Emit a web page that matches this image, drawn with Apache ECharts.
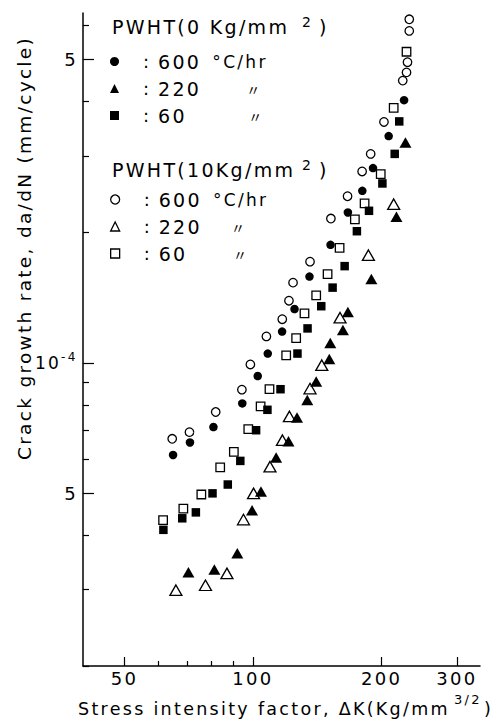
<!DOCTYPE html>
<html><head><meta charset="utf-8">
<script src="https://cdn.jsdelivr.net/npm/echarts@6/dist/echarts.min.js"></script>
<style>html,body{margin:0;padding:0;background:#fff}#c{width:501px;height:725px}#c svg text{letter-spacing:2.3px}</style>
</head><body><div id="c"></div>
<script>
// ---- axis ticks ----
const xTickLabels = [50, 100, 200, 300];
const xMinorTicks = [60, 70, 80, 90];
const yTickLabels = [5e-5, 1e-4, 5e-4];
const yMinorTicks = [2e-5, 3e-5, 4e-5, 6e-5, 7e-5, 8e-5, 9e-5, 2e-4, 3e-4, 4e-4, 6e-4];

// ---- series: stress intensity factor (x) and crack growth rate (y) ----
// PWHT (0 Kg/mm2)
const k0_600 = [225.8, 207.8, 191.0, 180.3, 166.8, 151.9, 135.6, 125.1, 117.0, 108.3, 102.6, 94.4, 80.8, 71.2, 65.0];
const r0_600 = [4.03e-4, 3.33e-4, 2.81e-4, 2.49e-4, 2.22e-4, 1.87e-4, 1.58e-4, 1.33e-4, 1.18e-4, 1.05e-4, 9.32e-5, 8.06e-5, 7.11e-5, 6.55e-5, 6.13e-5];
const k0_220 = [227.5, 216.7, 189.3, 166.8, 162.4, 151.7, 150.9, 140.6, 134.0, 126.8, 121.1, 113.3, 104.4, 99.5, 91.9, 81.2, 70.6];
const r0_220 = [3.22e-4, 2.17e-4, 1.56e-4, 1.31e-4, 1.19e-4, 1.11e-4, 1.02e-4, 9.05e-5, 8.21e-5, 7.48e-5, 6.59e-5, 6.05e-5, 5.05e-5, 4.57e-5, 3.64e-5, 3.34e-5, 3.29e-5];
const k0_60 = [220.0, 214.7, 200.9, 186.9, 175.1, 163.9, 153.6, 144.5, 134.2, 127.1, 116.0, 108.1, 101.7, 93.4, 87.3, 80.4, 73.5, 68.3, 61.7];
const r0_60 = [3.60e-4, 3.03e-4, 2.59e-4, 2.24e-4, 2.01e-4, 1.67e-4, 1.49e-4, 1.35e-4, 1.20e-4, 1.05e-4, 8.69e-5, 7.79e-5, 6.99e-5, 5.94e-5, 5.24e-5, 5.00e-5, 4.52e-5, 4.38e-5, 4.12e-5];
// PWHT (10 Kg/mm2)
const k10_600 = [232.2, 232.2, 230.0, 228.8, 224.2, 202.6, 188.6, 180.1, 166.5, 152.2, 136.0, 124.1, 121.4, 117.1, 107.5, 98.6, 94.2, 81.8, 71.0, 64.7];
const r10_600 = [6.19e-4, 5.82e-4, 4.93e-4, 4.67e-4, 4.47e-4, 3.59e-4, 3.03e-4, 2.76e-4, 2.42e-4, 2.15e-4, 1.71e-4, 1.53e-4, 1.39e-4, 1.26e-4, 1.15e-4, 9.91e-5, 8.67e-5, 7.70e-5, 6.92e-5, 6.68e-5];
const k10_220 = [213.5, 186.3, 159.9, 144.9, 136.0, 121.7, 117.2, 109.6, 100.3, 95.0, 86.9, 77.4, 66.0];
const r10_220 = [2.32e-4, 1.77e-4, 1.27e-4, 9.87e-5, 8.72e-5, 7.52e-5, 6.63e-5, 5.76e-5, 5.00e-5, 4.35e-5, 3.27e-5, 3.07e-5, 2.99e-5];
const k10_60 = [228.8, 213.5, 199.1, 182.5, 173.2, 159.5, 149.5, 140.6, 132.0, 126.2, 119.6, 109.3, 104.2, 97.5, 90.2, 83.8, 75.7, 68.7, 61.6];
const r10_60 = [5.21e-4, 3.87e-4, 2.72e-4, 2.33e-4, 2.14e-4, 1.84e-4, 1.60e-4, 1.43e-4, 1.30e-4, 1.14e-4, 1.04e-4, 8.69e-5, 7.93e-5, 7.03e-5, 6.23e-5, 5.74e-5, 4.97e-5, 4.61e-5, 4.34e-5];

// ---- legend texts ----
const groupTitles = ['PWHT(0 Kg/mm', 'PWHT(10Kg/mm'];
const rateNames = ['600', '220', '60'];
const rateUnits = ['°C/hr', '〃', '〃'];
const seriesNames = ['0Kg 600', '0Kg 220', '0Kg 60', '10Kg 600', '10Kg 220', '10Kg 60'];
const yTitle = 'Crack growth rate, da/dN (mm/cycle)';
const xTitle = 'Stress intensity factor, ΔK(Kg/mm';

const FONT = 'DejaVu Sans';
const zip = (a, b) => a.map((v, i) => [v, b[i]]);
const filled = { color: '#000', opacity: 1 };
const open = { color: '#fff', borderColor: '#000', borderWidth: 1.3, opacity: 1 };
const defs = [
  [k0_600, r0_600, 'circle', 8.5, filled],
  [k0_220, r0_220, 'triangle', [12, 10.5], filled],
  [k0_60, r0_60, 'rect', 8.5, filled],
  [k10_600, r10_600, 'circle', 8.5, open],
  [k10_220, r10_220, 'triangle', [12, 10.5], open],
  [k10_60, r10_60, 'rect', 8.5, open]
];
const series = defs.map((d, i) => ({
  name: seriesNames[i], type: 'scatter', data: zip(d[0], d[1]),
  symbol: d[2], symbolSize: d[3], itemStyle: d[4], xAxisIndex: 0, yAxisIndex: 0, z: i < 3 ? 3 : 2
}));

// uPads: gap after the number for [unit, ditto(220), ditto(60)]
function legendFor(idx, top, uPads) {
  return {
    show: true, orient: 'vertical', left: 110, top: top, itemGap: 8, itemWidth: 9, itemHeight: 9,
    selectedMode: false, padding: 0,
    data: [0, 1, 2].map(j => ({ name: seriesNames[idx + j], icon: defs[idx + j][2], itemStyle: defs[idx + j][4] })),
    formatter: name => {
      const j = seriesNames.indexOf(name) - idx;
      const u = rateUnits[j] === '〃' ? '{d' + j + '|〃}' : '{u|' + rateUnits[j] + '}';
      return '{c|:}{v|' + rateNames[j] + '}' + u;
    },
    textStyle: {
      color: '#000', fontFamily: FONT, fontSize: 18,
      rich: {
        c: { align: 'left', padding: [0, 0, 0, 19], fontSize: 18, lineHeight: 20, fontFamily: FONT },
        v: { align: 'left', padding: [0, 0, 0, 9], fontSize: 19, lineHeight: 20, fontFamily: FONT },
        u: { align: 'left', padding: [0, 0, 0, uPads[0]], fontSize: 17, lineHeight: 20, fontFamily: FONT },
        d1: { align: 'left', fontSize: 14, lineHeight: 20, padding: [0, 0, 0, uPads[1]], fontFamily: 'Noto Sans CJK JP' },
        d2: { align: 'left', fontSize: 14, lineHeight: 20, padding: [0, 0, 0, uPads[2]], fontFamily: 'Noto Sans CJK JP' }
      }
    }
  };
}

function supText(x, y, main, sup, mainW, supW, size, supSize, lh, supLh) {
  return { type: 'text', x: x, y: y,
    style: { text: '{t|' + main + '}{s|' + sup + '}{e|)}', fill: '#000', align: 'left', verticalAlign: 'middle',
      rich: {
        t: { fontFamily: FONT, fontSize: size, lineHeight: lh, width: mainW, align: 'left' },
        s: { fontFamily: FONT, fontSize: supSize, lineHeight: supLh, verticalAlign: 'top', width: supW, align: 'left' },
        e: { fontFamily: FONT, fontSize: size, lineHeight: lh, align: 'left' }
      } } };
}

const chart = echarts.init(document.getElementById('c'), null, { renderer: 'svg' });
const axisCommon = { lineStyle: { color: '#000', width: 1.5 } };
chart.setOption({
  animation: false,
  backgroundColor: '#fff',
  grid: { left: 83, right: 21, top: 13, bottom: 59, containLabel: false },
  xAxis: [{
    type: 'log', min: 40, max: 340, position: 'bottom',
    axisLine: { show: true, ...axisCommon },
    axisTick: { show: true, inside: true, length: 9, customValues: xTickLabels, lineStyle: { color: '#000', width: 1.2 } },
    axisLabel: { customValues: xTickLabels, color: '#000', fontFamily: FONT, fontSize: 18, margin: 3 },
    splitLine: { show: false }, minorTick: { show: false }
  }, {
    type: 'log', min: 40, max: 340, position: 'bottom',
    axisLine: { show: false },
    axisTick: { show: true, inside: true, length: 5, customValues: xMinorTicks, lineStyle: { color: '#000', width: 1.2 } },
    axisLabel: { show: false }, splitLine: { show: false }
  }],
  yAxis: [{
    type: 'log', min: 2e-5, max: 6.4e-4, position: 'left',
    axisLine: { show: true, ...axisCommon },
    axisTick: { show: true, inside: true, length: 11, customValues: yTickLabels, lineStyle: { color: '#000', width: 1.2 } },
    axisLabel: {
      customValues: yTickLabels, color: '#000', fontFamily: FONT, fontSize: 18, margin: 5,
      formatter: v => (Math.abs(v - 1e-4) < 1e-9 ? '{b|10}{s|-4}' : '5'),
      rich: {
        b: { fontSize: 17, fontFamily: FONT, lineHeight: 24, width: 26, align: 'left' },
        s: { fontSize: 12, fontFamily: FONT, verticalAlign: 'top', lineHeight: 12, width: 17, align: 'left' }
      }
    },
    splitLine: { show: false }, minorTick: { show: false }
  }, {
    type: 'log', min: 2e-5, max: 6.4e-4, position: 'left',
    axisLine: { show: false },
    axisTick: { show: true, inside: true, length: 6, customValues: yMinorTicks, lineStyle: { color: '#000', width: 1.2 } },
    axisLabel: { show: false }, splitLine: { show: false }
  }],
  legend: [legendFor(0, 52, [18, 52, 66]), legendFor(3, 190, [18, 36, 50])],
  graphic: [
    { type: 'text', x: 24, y: 248, rotation: Math.PI / 2,
      style: { text: yTitle, fontFamily: FONT, fontSize: 18.5, fill: '#000', align: 'center', verticalAlign: 'middle' } },
    supText(78, 709, xTitle, '3/2', 376, 30, 17.5, 13, 32, 12),
    supText(112, 27, groupTitles[0], '2', 190, 17, 19, 14, 24, 10),
    supText(112, 170, groupTitles[1], '2', 190, 17, 19, 14, 24, 10)
  ],
  series: series
});
</script></body></html>
